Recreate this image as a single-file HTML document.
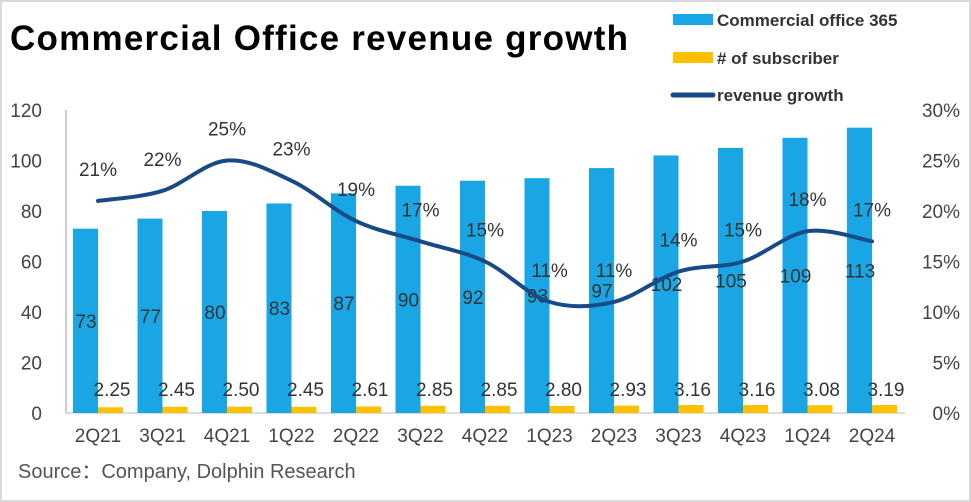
<!DOCTYPE html>
<html><head><meta charset="utf-8"><style>
body{margin:0;background:#fff;}
#wrap{position:relative;width:971px;height:502px;overflow:hidden;font-family:"Liberation Sans",sans-serif;}
</style></head><body>
<div id="wrap">
<svg id="chart" width="971" height="502" xmlns="http://www.w3.org/2000/svg">
<rect x="1" y="1" width="969" height="500" fill="#fff" stroke="#d9d9d9" stroke-width="2"/>
<text x="10" y="50" font-size="35" font-weight="bold" fill="#000" textLength="618">Commercial Office revenue growth</text>
<g>
<rect x="673" y="14" width="40" height="11" fill="#1aa6e4"/>
<text x="717" y="26" font-size="17" font-weight="bold" fill="#333">Commercial office 365</text>
<rect x="673" y="52" width="40" height="11" fill="#ffc000"/>
<text x="717" y="64" font-size="17" font-weight="bold" fill="#333"># of subscriber</text>
<line x1="673" y1="95" x2="713" y2="95" stroke="#174a86" stroke-width="5" stroke-linecap="round"/>
<text x="717" y="101" font-size="17" font-weight="bold" fill="#333">revenue growth</text>
</g>
<line x1="66" y1="110" x2="66" y2="413" stroke="#999"/>
<line x1="66" y1="413" x2="905" y2="413" stroke="#bbb"/>
<text x="18" y="478" font-size="20" fill="#555">Source：Company, Dolphin Research</text>
<g id="marks"></g>
</svg>
</div>
<script>
const categories=["2Q21","3Q21","4Q21","1Q22","2Q22","3Q22","4Q22","1Q23","2Q23","3Q23","4Q23","1Q24","2Q24"];
const officeRevenue=[73,77,80,83,87,90,92,93,97,102,105,109,113];
const subscribers=[2.25,2.45,2.50,2.45,2.61,2.85,2.85,2.80,2.93,3.16,3.16,3.08,3.19];
const growth=[21,22,25,23,19,17,15,11,11,14,15,18,17];
const leftTicks=[0,20,40,60,80,100,120];
const rightTicks=[0,5,10,15,20,25,30];
const NS="http://www.w3.org/2000/svg";
const g=document.getElementById('marks');
const yL=v=>413-v*(303/120);
const yR=v=>413-v*(303/30);
const xC=i=>98+i*64.5;
function mk(tag,attrs,txt){const e=document.createElementNS(NS,tag);for(const k in attrs)e.setAttribute(k,attrs[k]);if(txt!==undefined)e.textContent=txt;g.appendChild(e);return e;}
leftTicks.forEach(t=>{const e=mk('text',{x:42,y:yL(t)+7,'font-size':19,fill:'#444','text-anchor':'end'},t);

});
rightTicks.forEach(t=>{const e=mk('text',{x:960,y:yR(t)+7,'font-size':19,fill:'#444','text-anchor':'end'},t+'%');

});
categories.forEach((c,i)=>{
const cx=xC(i);
const b=mk('rect',{x:cx-25,y:yL(officeRevenue[i]),width:25,height:413-yL(officeRevenue[i]),fill:'#1aa6e4'});


const s=mk('rect',{x:cx,y:yL(subscribers[i]),width:25,height:413-yL(subscribers[i]),fill:'#ffc000'});


const l=mk('text',{x:cx,y:442,'font-size':19,fill:'#444','text-anchor':'middle'},c);


const v=mk('text',{x:cx-12,y:(yL(officeRevenue[i])+413)/2+7,'font-size':19,fill:'#333','text-anchor':'middle'},officeRevenue[i]);


const sv=mk('text',{x:cx+14,y:396,'font-size':19,fill:'#333','text-anchor':'middle'},subscribers[i].toFixed(2));


const gv=mk('text',{x:cx,y:yR(growth[i])-25,'font-size':19,fill:'#333','text-anchor':'middle'},growth[i]+'%');


});
const pts=growth.map((v,i)=>[xC(i),yR(v)]);
let d='M'+pts[0][0]+','+pts[0][1];
for(let i=0;i<pts.length-1;i++){const p0=pts[i-1]||pts[i],p1=pts[i],p2=pts[i+1],p3=pts[i+2]||p2;
const c1=[p1[0]+(p2[0]-p0[0])/6,p1[1]+(p2[1]-p0[1])/6],c2=[p2[0]-(p3[0]-p1[0])/6,p2[1]-(p3[1]-p1[1])/6];
d+=` C${c1[0]},${c1[1]} ${c2[0]},${c2[1]} ${p2[0]},${p2[1]}`;}
const line=mk('path',{d:d,fill:'none',stroke:'#174a86','stroke-width':4,'stroke-linecap':'round'});


</script>
</body></html>
